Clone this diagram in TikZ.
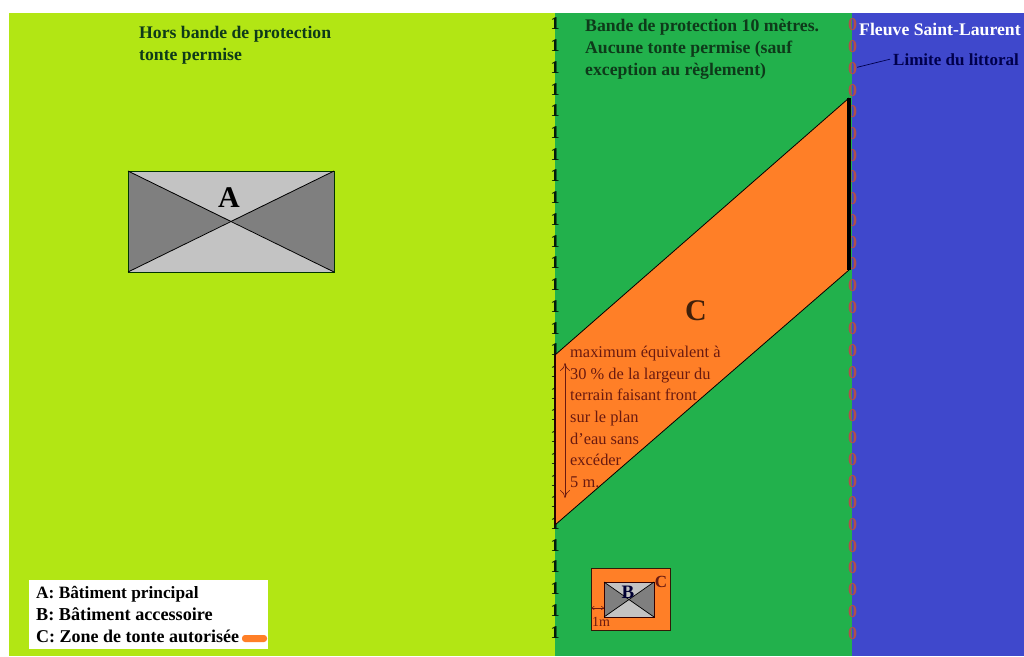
\documentclass[tikz,border=0pt]{standalone}
\usepackage{fontspec}
\setmainfont{Liberation Serif}
\usetikzlibrary{arrows.meta}
\definecolor{lime}{HTML}{B2E614}
\definecolor{bandgreen}{HTML}{22B14C}
\definecolor{river}{HTML}{3F48CC}
\definecolor{zone}{HTML}{FF7F27}
\definecolor{lightroof}{HTML}{C3C3C3}
\definecolor{darkroof}{HTML}{7F7F7F}
\definecolor{redtext}{HTML}{6A1A10}
\definecolor{zerored}{HTML}{B0504A}
\definecolor{darkgreen}{HTML}{0E3A1A}
\tikzset{
  label/.style={inner sep=0pt,anchor=base west,font=\fontsize{17.7}{17.7}\selectfont\bfseries},
  note/.style={inner sep=0pt,anchor=base west,text=redtext,font=\fontsize{16.4}{16.4}\selectfont},
  onech/.style={inner sep=0pt,text=black!85!bandgreen,font=\fontsize{18}{18}\selectfont\bfseries},
  zeroch/.style={inner sep=0pt,text=zerored,font=\fontsize{18}{18}\selectfont\bfseries},
  roofedge/.style={draw=black!80!green,line width=0.8pt},
  zoneedge/.style={draw=black,line width=0.8pt},
  dim/.style={draw=redtext,line width=0.6pt,{To[length=8pt,width=10pt]}-{To[length=8pt,width=10pt]}}
}
\begin{document}
\begin{tikzpicture}[x=1pt,y=-1pt]
\useasboundingbox (0,0) rectangle (1024,656);
\fill[white] (0,0) rectangle (1024,656);
\fill[lime] (9,13) rectangle (555,656);
\fill[bandgreen] (555,13) rectangle (852,656);
\fill[river] (852,13) rectangle (1024,656);
% column of ones and zeros
\foreach \i in {0,...,28} {
  \node[onech] (one\i) at (555,24+21.72*\i) {1};
}
\foreach \i in {0,...,28} {
  \node[zeroch] (zero\i) at (852.5,25+21.72*\i) {0};
}
% zone C
\coordinate (zt) at (849,98);
\coordinate (zb) at (849,270);
\coordinate (zl) at (555,525);
\coordinate (zu) at (555,355);
\fill[zone] (zu) -- (zt) -- (zb) -- (zl) -- cycle;
\draw[zoneedge] (zu) -- (zt);
\draw[zoneedge] (zb) -- (zl);
\draw[line width=3.2pt,black] (zt) -- (zb);
\draw[line width=1.4pt,black!85!red] (zl) -- (zu);
\node[inner sep=0pt,text=black!75!zone,font=\fontsize{30}{30}\selectfont\bfseries] (zoneC) at (696,311) {C};
% notes in the zone
\node[note] (n1) at (570,357) {maximum équivalent à};
\node[note] (n2) at (570,379) {30 \% de la largeur du};
\node[note] (n3) at (570,400) {terrain faisant front};
\node[note] (n4) at (570,422) {sur le plan};
\node[note] (n5) at (570,444) {d'eau sans};
\node[note] (n6) at (570,465) {excéder};
\node[note] (n7) at (570,487) {5 m.};
\coordinate (a1) at (565,363);
\coordinate (a2) at (565,498);
\draw[dim] (a1) -- (a2);
% building A
\coordinate (A1) at (128,171);
\coordinate (A2) at (334,171);
\coordinate (A3) at (334,272);
\coordinate (A4) at (128,272);
\coordinate (Ac) at (231,221);
\fill[lightroof] (A1) rectangle (A3);
\fill[darkroof] (A1) -- (Ac) -- (A4) -- cycle;
\fill[darkroof] (A2) -- (Ac) -- (A3) -- cycle;
\draw[roofedge] (A1) rectangle (A3);
\draw[line width=0.8pt,black] (A1) -- (A3);
\draw[line width=0.8pt,black] (A2) -- (A4);
\node[inner sep=0pt,font=\fontsize{30}{30}\selectfont\bfseries] (labelA) at (229,198) {A};
% building B
\node[draw=black!80!zone,fill=zone,line width=0.9pt,minimum width=79pt,minimum height=62pt,inner sep=0pt] (plotB) at (630.5,599) {};
\coordinate (B1) at (604,582);
\coordinate (B2) at (654,582);
\coordinate (B3) at (654,617);
\coordinate (B4) at (604,617);
\coordinate (Bc) at (629,600);
\fill[lightroof] (B1) rectangle (B3);
\fill[darkroof] (B1) -- (Bc) -- (B4) -- cycle;
\fill[darkroof] (B2) -- (Bc) -- (B3) -- cycle;
\draw[line width=0.8pt,black!80!red] (B1) rectangle (B3);
\draw[line width=0.7pt,black] (B1) -- (B3);
\draw[line width=0.7pt,black] (B2) -- (B4);
\node[inner sep=0pt,text=black!80!blue,font=\fontsize{19}{19}\selectfont\bfseries] (labelB) at (628,592) {B};
\node[inner sep=0pt,text=redtext,font=\fontsize{17}{17}\selectfont\bfseries] (labelC) at (661,582) {C};
\coordinate (d1) at (591.5,608);
\coordinate (d2) at (604,608);
\draw[draw=redtext,line width=0.5pt,{To[length=3pt,width=4pt]}-{To[length=3pt,width=4pt]}] (d1) -- (d2);
\node[inner sep=0pt,text=redtext,font=\fontsize{14}{14}\selectfont] (oneM) at (601,622) {1m};
% top labels
\node[label,text=darkgreen] (t1) at (139,38) {Hors bande de protection};
\node[label,text=darkgreen] (t2) at (139,60) {tonte permise};
\node[label,text=darkgreen] (t3) at (585,31) {Bande de protection 10 mètres.};
\node[label,text=darkgreen] (t4) at (585,53) {Aucune tonte permise (sauf};
\node[label,text=darkgreen] (t5) at (585,75) {exception au règlement)};
\node[label,text=white] (t6) at (859,35) {Fleuve Saint-Laurent};
\node[label,text=black!70!blue,anchor=base east,font=\fontsize{17}{17}\selectfont\bfseries] (t7) at (1019,65) {Limite du littoral};
\draw[line width=0.7pt,black!70!blue] ([xshift=-3pt]t7.west) -- (zero2);
% legend
\node[fill=white,inner sep=0pt,minimum width=239pt,minimum height=69pt] (legend) at (148.5,614.5) {};
\node[label,text=black,font=\fontsize{17.3}{17.3}\selectfont\bfseries] (l1) at (36,598) {A: Bâtiment principal};
\node[label,text=black,font=\fontsize{18.2}{18.2}\selectfont\bfseries] (l2) at (36,620) {B: Bâtiment accessoire};
\node[label,text=black,font=\fontsize{18}{18}\selectfont\bfseries] (l3) at (36,642) {C: Zone de tonte autorisée};
\node[fill=zone,rounded corners=3pt,minimum width=25pt,minimum height=7pt,inner sep=0pt] (blob) at (254.5,638.5) {};
\end{tikzpicture}
\end{document}
